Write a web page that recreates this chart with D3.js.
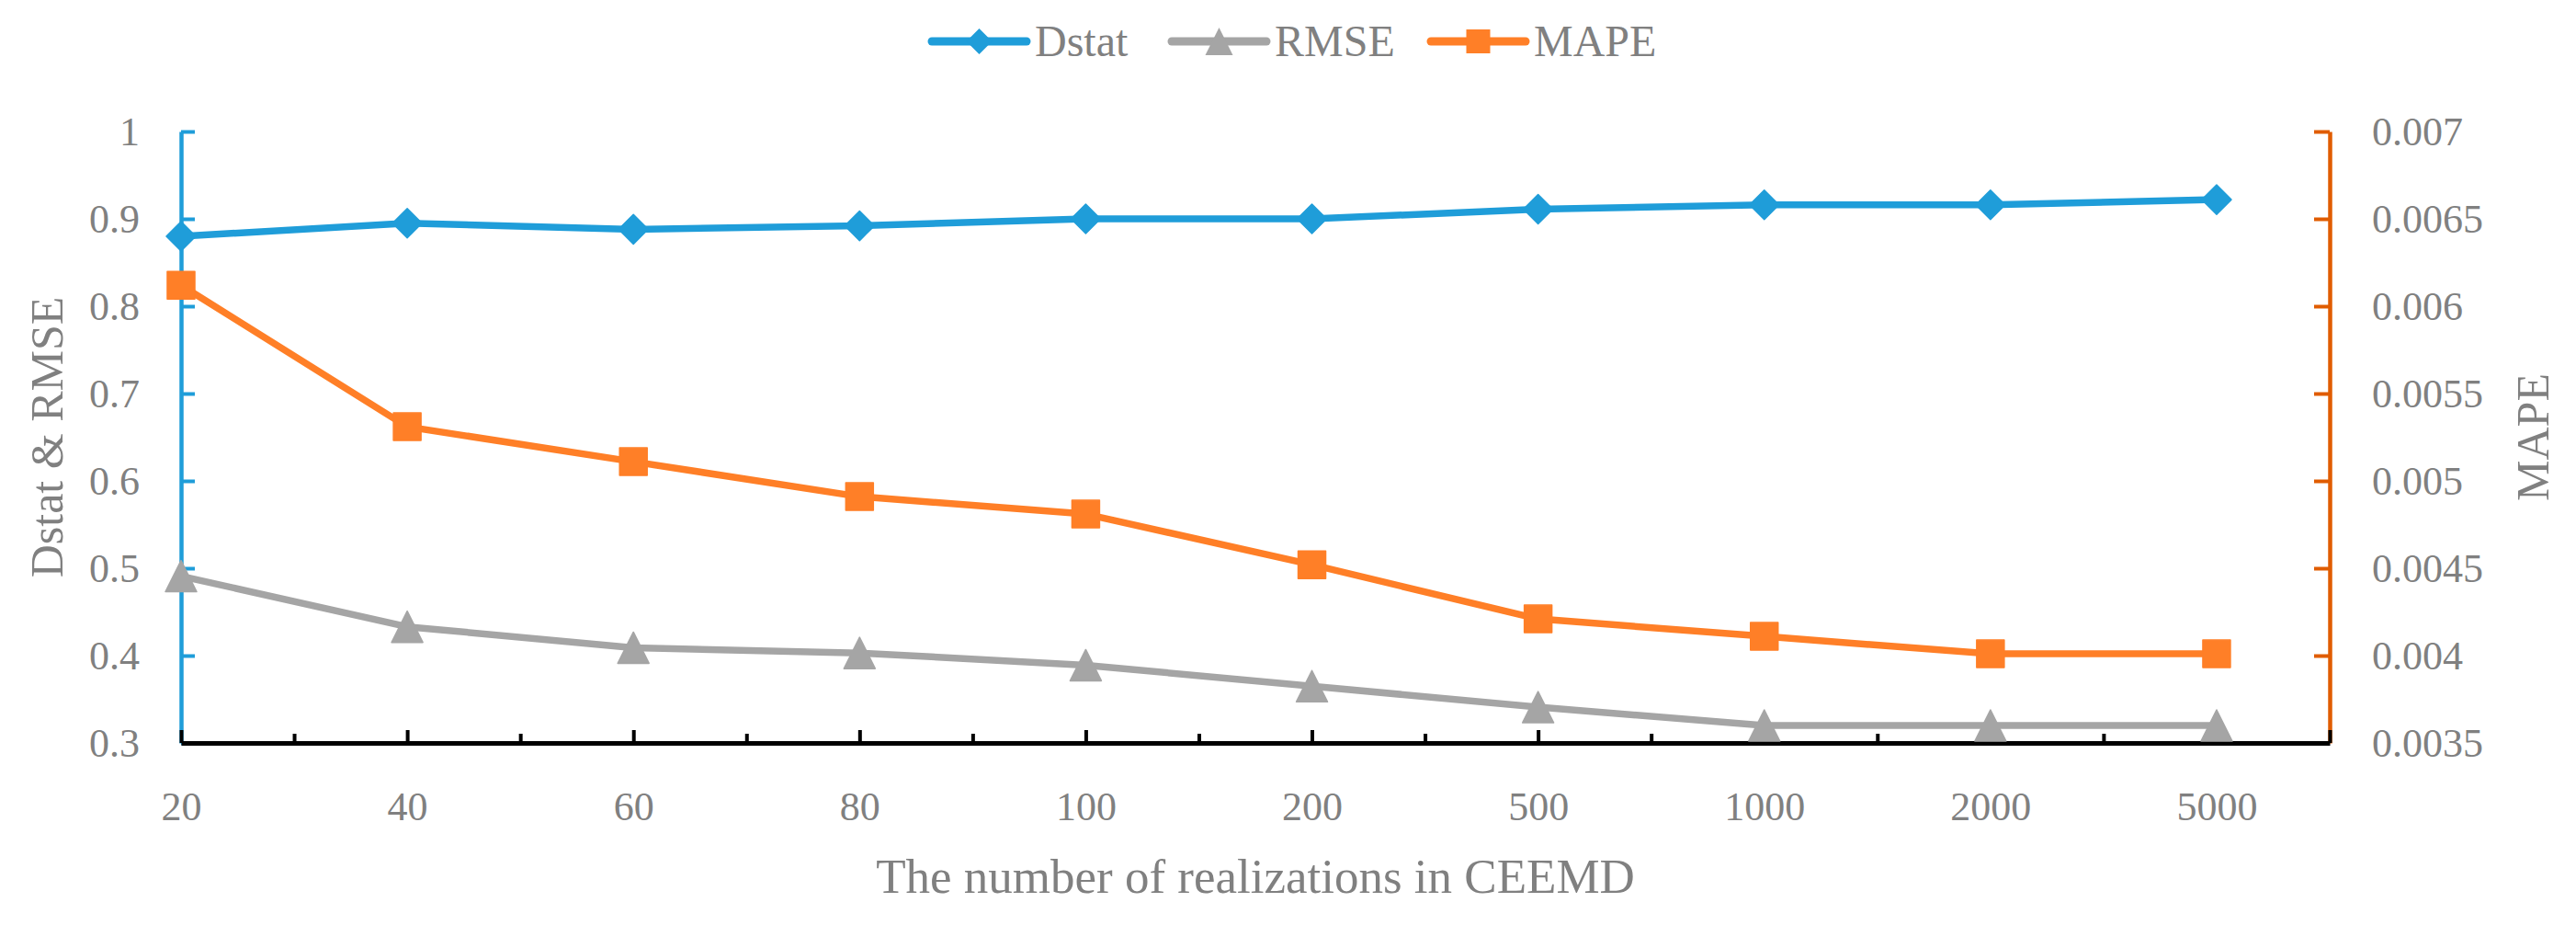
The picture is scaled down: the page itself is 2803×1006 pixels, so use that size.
<!DOCTYPE html>
<html>
<head>
<meta charset="utf-8">
<script src="https://cdn.jsdelivr.net/npm/d3@7"></script>
<style>
  body { margin: 0; background: #fff; }
  text { font-family: "Liberation Serif", "Times New Roman", serif; fill: #808080; }
</style>
</head>
<body>
<div id="vis"></div>
<script>
// values
const categories = ["20", "40", "60", "80", "100", "200", "500", "1000", "2000", "5000"];
const dstat = [0.88, 0.895, 0.888, 0.892, 0.90, 0.90, 0.911, 0.916, 0.916, 0.922];
const rmse = [0.491, 0.433, 0.409, 0.403, 0.389, 0.365, 0.341, 0.32, 0.32, 0.32];
const mape = [0.00612, 0.00531, 0.00511, 0.00491, 0.00481, 0.00452, 0.00421, 0.00411, 0.00401, 0.00401];

const leftTicks = [0.3, 0.4, 0.5, 0.6, 0.7, 0.8, 0.9, 1];
const rightTicks = [0.0035, 0.004, 0.0045, 0.005, 0.0055, 0.006, 0.0065, 0.007];
const rightLabels = ["0.0035", "0.004", "0.0045", "0.005", "0.0055", "0.006", "0.0065", "0.007"];

const blue = "#1f9dd9", gray = "#a5a5a5", orange = "#ff7f27", axisOrange = "#e05c00";

const width = 2803, height = 1006;
const plotLeft = 197, plotRight = 2535, plotTop = 143, plotBottom = 808;

const svg = d3.select('#vis')
    .append('svg')
    .attr('width', width)
    .attr('height', height);

const x = d3.scaleLinear().domain([0, 9.5]).range([plotLeft, plotRight]);
const y = d3.scaleLinear().domain([0.3, 1]).range([plotBottom, plotTop]);
const yR = d3.scaleLinear().domain([0.0035, 0.007]).range([plotBottom, plotTop]);

// marker shapes
function diamond(s) { return `M0,${-s}L${s},0L0,${s}L${-s},0Z`; }
function square(s) { return `M${-s},${-s}H${s}V${s}H${-s}Z`; }
function triangle(s) { return `M0,${-s}L${s},${s}L${-s},${s}Z`; }

// left axis
const gL = svg.append('g')
    .attr('transform', `translate(${plotLeft},0)`)
    .call(d3.axisLeft(y).tickValues(leftTicks).tickFormat(d => String(d))
        .tickSizeInner(-15).tickSizeOuter(0).tickPadding(45));
gL.select('.domain').attr('stroke', blue).attr('stroke-width', 4.5);
gL.selectAll('.tick line').attr('stroke', blue).attr('stroke-width', 4);
gL.selectAll('.tick text').attr('font-size', 44).attr('dy', '0.34em')
    .style('font-family', '"Liberation Serif", serif').attr('fill', '#808080');

// right axis
const gR = svg.append('g')
    .attr('transform', `translate(${plotRight},0)`)
    .call(d3.axisRight(yR).tickValues(rightTicks).tickFormat((d, i) => rightLabels[i])
        .tickSizeInner(-17).tickSizeOuter(0).tickPadding(46));
gR.select('.domain').attr('stroke', axisOrange).attr('stroke-width', 4.5);
gR.selectAll('.tick line').attr('stroke', axisOrange).attr('stroke-width', 4);
gR.selectAll('.tick text').attr('font-size', 44).attr('dy', '0.34em')
    .style('font-family', '"Liberation Serif", serif').attr('fill', '#808080');

// bottom axis: major ticks on categories, minor ticks between
const majors = d3.range(categories.length).concat([9.5]);
const gB = svg.append('g')
    .attr('transform', `translate(0,${plotBottom})`)
    .call(d3.axisBottom(x).tickValues(majors).tickFormat(i => categories[i] || "")
        .tickSizeInner(-14).tickSizeOuter(0).tickPadding(53));
gB.select('.domain').attr('stroke', '#000').attr('stroke-width', 5);
gB.selectAll('.tick line').attr('stroke', '#000').attr('stroke-width', 4);
gB.selectAll('.tick text').attr('font-size', 44)
    .style('font-family', '"Liberation Serif", serif').attr('fill', '#808080');

const gMinor = svg.append('g')
    .attr('transform', `translate(0,${plotBottom})`)
    .call(d3.axisBottom(x).tickValues(d3.range(0.5, 9, 1)).tickFormat("")
        .tickSizeInner(-10).tickSizeOuter(0));
gMinor.select('.domain').remove();
gMinor.selectAll('.tick line').attr('stroke', '#000').attr('stroke-width', 4);

// axis titles
svg.append('text')
    .attr('transform', `translate(68,${(plotTop + plotBottom) / 2}) rotate(-90)`)
    .attr('text-anchor', 'middle')
    .attr('font-size', 50)
    .text('Dstat & RMSE');

svg.append('text')
    .attr('transform', `translate(2773,${(plotTop + plotBottom) / 2}) rotate(-90)`)
    .attr('text-anchor', 'middle')
    .attr('font-size', 50)
    .text('MAPE');

svg.append('text')
    .attr('x', (plotLeft + plotRight) / 2)
    .attr('y', 971)
    .attr('text-anchor', 'middle')
    .attr('font-size', 53)
    .text('The number of realizations in CEEMD');

// series
const series = [
    { name: "Dstat", values: dstat, scale: y, color: blue, shape: diamond, size: 16 },
    { name: "RMSE", values: rmse, scale: y, color: gray, shape: triangle, size: 17 },
    { name: "MAPE", values: mape, scale: yR, color: orange, shape: square, size: 15 }
];

series.forEach(s => {
    const line = d3.line()
        .x((d, i) => x(i))
        .y(d => s.scale(d));

    svg.append('path')
        .datum(s.values)
        .attr('fill', 'none')
        .attr('stroke', s.color)
        .attr('stroke-width', 7.5)
        .attr('stroke-linejoin', 'round')
        .attr('d', line);

    svg.append('g').selectAll('path')
        .data(s.values)
        .join('path')
        .attr('transform', (d, i) => `translate(${x(i)},${s.scale(d)})`)
        .attr('fill', s.color)
        .attr('stroke', s.color)
        .attr('stroke-width', 1.5)
        .attr('stroke-linejoin', 'round')
        .attr('d', s.shape(s.size));
});

// legend
const legendX = [1014, 1275, 1557];
const legend = svg.append('g');
series.forEach((s, i) => {
    const g = legend.append('g').attr('transform', `translate(${legendX[i]},45)`);
    g.append('line')
        .attr('x1', 0).attr('x2', 103)
        .attr('stroke', s.color)
        .attr('stroke-width', 9)
        .attr('stroke-linecap', 'round');
    g.append('path')
        .attr('transform', 'translate(51.5,0)')
        .attr('fill', s.color)
        .attr('d', s.shape(s.size - 2));
    g.append('text')
        .attr('x', 112)
        .attr('y', 16)
        .attr('font-size', 48)
        .text(s.name);
});
</script>
</body>
</html>
